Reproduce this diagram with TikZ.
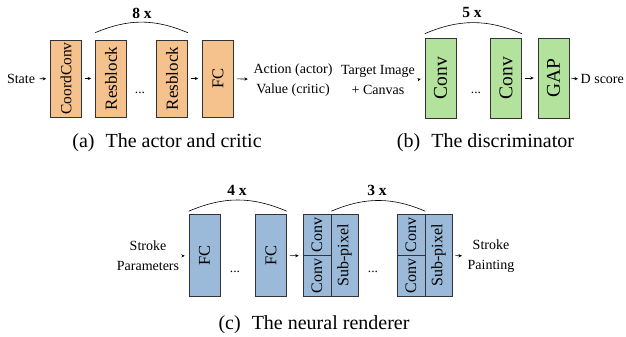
\documentclass[tikz,border=0pt]{standalone}
\usepackage{fontspec}
\setmainfont{Liberation Serif}
\usepackage{graphicx}
\usetikzlibrary{arrows.meta}
\definecolor{orng}{HTML}{F5C28D}
\definecolor{grn}{HTML}{B3E29C}
\definecolor{blu}{HTML}{9BBAD9}
\begin{document}
\begin{tikzpicture}[x=1pt,y=-1pt,
  blk/.style={draw=black!80,line width=0.6pt,inner sep=0pt},
  boxa/.style={blk,fill=orng,minimum width=31pt,minimum height=77pt,font=\fontsize{17}{17}\selectfont},
  boxb/.style={blk,fill=grn,minimum width=31pt,minimum height=80pt,font=\fontsize{19.5}{19.5}\selectfont},
  boxc/.style={blk,fill=blu,minimum width=31pt,minimum height=82pt,font=\fontsize{16.5}{16.5}\selectfont},
  halfc/.style={blk,fill=blu,minimum width=28pt,minimum height=41pt,font=\fontsize{16}{16}\selectfont},
  colc/.style={blk,fill=blu,minimum width=27pt,minimum height=82pt,font=\fontsize{16}{16}\selectfont},
  txt/.style={inner sep=1.5pt,align=center,font=\fontsize{14}{20}\selectfont},
  dotsn/.style={inner sep=0pt,font=\fontsize{13.5}{13.5}\selectfont},
  mult/.style={inner sep=0pt,font=\bfseries\fontsize{15.5}{15.5}\selectfont},
  captxt/.style={inner sep=0pt,font=\fontsize{20}{20}\selectfont},
  arr/.style={-{Stealth[length=3.5pt,width=3.2pt]},line width=0.6pt,shorten <=3pt,shorten >=4pt},
  arcl/.style={line width=0.6pt}]
\useasboundingbox (0,0) rectangle (626,337);
% ---------- (a)
\node[txt] (state) at (21,79) {State};
\node[boxa,font=\fontsize{15.5}{15.5}\selectfont] (cc) at (66,78.5) {\rotatebox{90}{CoordConv}};
\node[boxa] (r1) at (111,78.5) {\rotatebox{90}{Resblock}};
\node[dotsn] (da) at (140,93) {...};
\node[boxa] (r2) at (172,78.5) {\rotatebox{90}{Resblock}};
\node[boxa,font=\fontsize{16.5}{16.5}\selectfont] (fca) at (218,78.5) {\rotatebox{90}{FC}};
\node[txt] (act) at (293,80) {Action (actor)\\Value (critic)};
\draw[arr] (state) -- (cc);
\draw[arr] (cc) -- (r1);
\draw[arr] (r2) -- (fca);
\draw[arr] (fca) -- (act);
\coordinate (a1) at ([yshift=7pt]r1.north west);
\coordinate (a2) at ([yshift=7pt]r2.north east);
\draw[arcl] (a1) to[bend left=23] (a2);
\node[mult] (m8) at (142,13) {8 x};
\node[captxt] (capa) at (167,143) {(a)\hspace{6pt} The actor and critic};
% ---------- (b)
\node[txt] (tgt) at (378,80) {Target Image\\+ Canvas};
\node[boxb] (c1) at (440.5,78) {\rotatebox{90}{Conv}};
\node[dotsn] (db) at (476,93) {...};
\node[boxb] (c2) at (506,78) {\rotatebox{90}{Conv}};
\node[boxb] (gap) at (553.5,78) {\rotatebox{90}{GAP}};
\node[txt,anchor=west] (ds) at (579,79) {D score};
\draw[arr] (tgt.east) -- (c1.west);
\draw[arr] (c2) -- (gap);
\draw[arr,shorten <=2pt,shorten >=1pt] (gap.east) -- (ds.west);
\coordinate (b1) at ([yshift=4pt]c1.north west);
\coordinate (b2) at ([yshift=4pt]c2.north east);
\draw[arcl] (b1) to[bend left=23] (b2);
\node[mult] (m5) at (472,13) {5 x};
\node[captxt] (capb) at (485.5,143) {(b)\hspace{6pt} The discriminator};
% ---------- (c)
\node[txt] (sp) at (148,256) {Stroke\\Parameters};
\node[boxc] (f1) at (204.5,255.5) {\rotatebox{90}{FC}};
\node[dotsn] (dc1) at (235,272) {...};
\node[boxc] (f2) at (271,255.5) {\rotatebox{90}{FC}};
\node[halfc] (p1a) at (317,235) {\rotatebox{90}{Conv}};
\node[halfc] (p1b) at (317,276) {\rotatebox{90}{Conv}};
\node[colc] (p1c) at (344.5,255.5) {\rotatebox{90}{Sub-pixel}};
\node[dotsn] (dc2) at (373,272) {...};
\node[halfc] (p2a) at (411,235) {\rotatebox{90}{Conv}};
\node[halfc] (p2b) at (411,276) {\rotatebox{90}{Conv}};
\node[colc] (p2c) at (438.5,255.5) {\rotatebox{90}{Sub-pixel}};
\node[txt] (spt) at (491,256) {Stroke\\Painting};
\draw[arr] (sp.east) -- (f1.west);
\draw[arr] (f2.east) -- (p1a.south west);
\draw[arr] (p2c.east) -- (spt.west);
\coordinate (c4a) at ([yshift=3pt]f1.north west);
\coordinate (c4b) at ([yshift=3pt]f2.north east);
\draw[arcl] (c4a) to[bend left=23] (c4b);
\node[mult] (m4) at (237,190) {4 x};
\coordinate (c3a) at ([yshift=3pt]p1a.north east);
\coordinate (c3b) at ([yshift=3pt]p2a.north east);
\draw[arcl] (c3a) to[bend left=23] (c3b);
\node[mult] (m3) at (377,190) {3 x};
\node[captxt] (capc) at (314,325) {(c)\hspace{6pt} The neural renderer};
\end{tikzpicture}
\end{document}
